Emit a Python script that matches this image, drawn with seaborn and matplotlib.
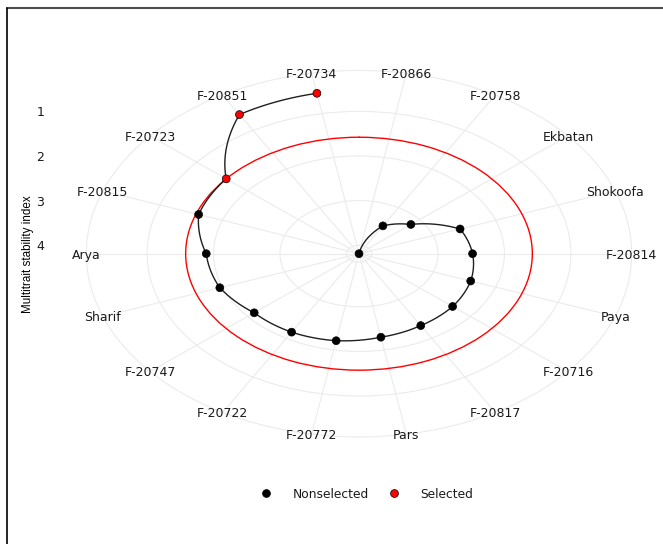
import numpy as np
import pandas as pd
import matplotlib
matplotlib.use("Agg")
import matplotlib.pyplot as plt
from matplotlib.lines import Line2D
import seaborn as sns

# Genotypes in ranking order (highest MTSI first) and their index values
genotypes = ["F-20866", "F-20758", "Ekbatan", "Shokoofa", "F-20814", "Paya",
             "F-20716", "F-20817", "Pars", "F-20772", "F-20722", "F-20747",
             "Sharif", "Arya", "F-20815", "F-20723", "F-20851", "F-20734"]
mtsi = [4.19, 3.47, 3.17, 2.57, 2.48, 2.40, 2.35, 2.33, 2.29, 2.21, 2.16, 2.13,
        1.96, 1.89, 1.62, 1.58, 0.59, 0.54]
selected = ["F-20723", "F-20851", "F-20734"]
r_ticks = [1, 2, 3, 4]
legend_labels = ["Nonselected", "Selected"]

sns.set_style("white")
plt.rcParams["font.family"] = ["DejaVu Sans"]

n = len(genotypes)
theta = (np.arange(n) + 0.5) * 2 * np.pi / n
df = pd.DataFrame({
    "genotype": genotypes,
    "theta": theta,
    "mtsi": mtsi,
    "status": np.where(np.isin(genotypes, selected), "Selected", "Nonselected"),
})
cutpoint = df.loc[df["status"] == "Selected", "mtsi"].max()

# Reversed radial scale: largest index at the centre, data fill 0.4 of the panel
r_hi = df["mtsi"].max()
r_span = r_hi - df["mtsi"].min()
r_edge = r_hi - r_span * 0.45 / 0.4

# Layout in pixels
W, H = 663, 544
cx, cy = 359.0, 253.7          # centre of the polar panel (from top-left)
pw, ph = 303.0, 203.6          # half-size of the plotting panel
grid_color = "#ebebeb"
text_color = "#1a1a1a"

fig = plt.figure(figsize=(W / 100, H / 100), dpi=100)
fig.patch.set_facecolor("white")

# Panel axes carrying the radial scale on the left
panel = fig.add_axes([(cx - pw) / W, (H - cy - ph) / H, 2 * pw / W, 2 * ph / H])
panel.set_facecolor("none")
for sp in panel.spines.values():
    sp.set_visible(False)
panel.set_xticks([])
panel.set_ylim(r_hi + r_span * 0.5 / 0.4, r_hi - r_span * 0.5 / 0.4)
panel.set_yticks(r_ticks)
panel.set_yticklabels([str(t) for t in r_ticks])
panel.tick_params(axis="y", length=0, pad=8.6, labelsize=9, labelcolor=text_color)
panel.set_ylabel("Multitrait stability index", color="black",
                 family=["Liberation Sans", "DejaVu Sans"], fontsize=8.4)
panel.yaxis.set_label_coords(-0.036, 0.5)

# Polar axes, stretched to the panel's shape
rx, ry = 0.9 * pw, 0.9 * ph
pax = fig.add_axes([(cx - rx) / W, (H - cy - ry) / H, 2 * rx / W, 2 * ry / H],
                   projection="polar")
pax.set_aspect("auto")
pax.set_facecolor("none")
pax.set_theta_zero_location("N")
pax.set_theta_direction(-1)

# Cut-off circle
cut_line, = pax.plot([0, 2 * np.pi], [cutpoint, cutpoint], color="red", lw=1.0, zorder=2.7)
cut_line.get_path()._interpolation_steps = 180

# Path joining the genotypes
sns.lineplot(data=df, x="theta", y="mtsi", sort=False, estimator=None,
             color="#1f1f1f", lw=1.0, ax=pax, legend=False, zorder=3)
path_line = pax.lines[-1]
path_line.get_path()._interpolation_steps = 40

sns.scatterplot(data=df, x="theta", y="mtsi", hue="status", hue_order=legend_labels,
                palette=["black", "red"], s=32, edgecolor="black", linewidth=0.5,
                ax=pax, zorder=4)

pax.set_xlabel("")
pax.set_ylabel("")
pax.set_xticks(theta)
pax.set_xticklabels(genotypes)
pax.set_yticks(r_ticks)
pax.set_yticklabels([])
pax.set_ylim(r_hi, r_edge)
pax.grid(True, color=grid_color, lw=0.8)
pax.spines["polar"].set_edgecolor(grid_color)
pax.spines["polar"].set_linewidth(0.8)
pax.tick_params(axis="x", pad=-10.5, labelsize=9, labelcolor=text_color)
for lab in pax.get_xticklabels():
    lab.set_verticalalignment("center_baseline")
# Angle labels sit above the radial circles and the outer ring
pax.yaxis.set_zorder(0.5)
pax.xaxis.set_zorder(2.6)

# Legend below the chart
leg = pax.get_legend()
handles = leg.legend_handles
labels = [t.get_text() for t in leg.get_texts()]
leg.remove()
fig.legend(handles, labels, loc="center", bbox_to_anchor=(366.5 / W, 1 - 494 / H),
           ncol=2, frameon=False, fontsize=8.8, handlelength=1.0,
           handletextpad=1.63, columnspacing=1.55, labelcolor=text_color)

# Frame lines on the top and left edges
fig.add_artist(Line2D([6.5 / W, 1], [1 - 7.8 / H] * 2, transform=fig.transFigure,
                      color="#4d4d4d", lw=1.5))
fig.add_artist(Line2D([6.5 / W] * 2, [0, 1 - 7.8 / H], transform=fig.transFigure,
                      color="black", lw=1.2))

fig.savefig("out.png", dpi=100, facecolor="white")
